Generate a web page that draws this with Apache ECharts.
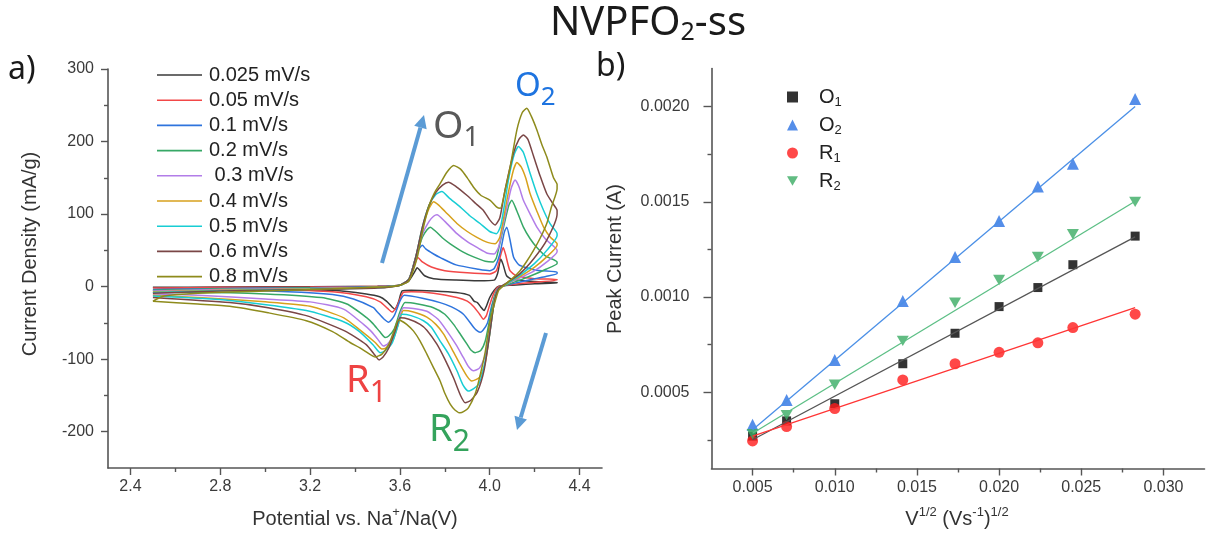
<!DOCTYPE html>
<html><head><meta charset="utf-8">
<script src="https://cdn.jsdelivr.net/npm/echarts/dist/echarts.min.js"></script>
<style>html,body{margin:0;padding:0;background:#fff}#c{width:1207px;height:535px}</style>
</head><body><div id="c"></div>
<script>
// ---------- panel a) data: cyclic voltammograms [potential V, current density mA/g] ----------
const scanRateNames = ['0.025 mV/s', '0.05 mV/s', '0.1 mV/s', '0.2 mV/s', ' 0.3 mV/s', '0.4 mV/s', '0.5 mV/s', '0.6 mV/s', '0.8 mV/s'];

const cv0025 = [[2.5,-1],[2.8,-0.5],[3.2,0],[3.5,0.5],[3.6,2],[3.64,8],[3.665,20],[3.677,26],[3.69,22],[3.71,15],[3.75,11],[3.85,9],[3.95,8],[4.02,9],[4.035,18],[4.049,38],[4.06,30],[4.075,15],[4.1,10],[4.2,7],[4.3,6],
  [4.3,5],[4.2,4],[4.1,2],[4.04,0.5],[4.02,-5],[4.0,-15],[3.985,-27],[3.975,-33],[3.96,-28],[3.945,-22],[3.93,-20],[3.91,-12],[3.85,-8],[3.75,-6],[3.65,-5],[3.61,-6],[3.595,-20],[3.578,-31],[3.565,-28],[3.54,-20],[3.51,-14],[3.45,-10],[3.3,-5],[3.0,-3],[2.7,-2],[2.5,-1]];
const cv005 = [[2.5,-2],[2.8,-1],[3.2,-0.5],[3.5,0.5],[3.6,2],[3.64,10],[3.665,30],[3.68,40],[3.70,34],[3.74,27],[3.8,22],[3.9,19],[4.0,17.5],[4.03,22],[4.05,45],[4.06,54],[4.07,45],[4.09,22],[4.12,15],[4.2,11],[4.3,10],
  [4.3,9],[4.2,6],[4.1,3],[4.04,0],[4.02,-8],[4.0,-25],[3.985,-40],[3.972,-45],[3.955,-38],[3.93,-28],[3.9,-20],[3.854,-15],[3.75,-9],[3.65,-7],[3.615,-8],[3.59,-25],[3.565,-35],[3.545,-30],[3.512,-21],[3.45,-14],[3.3,-7],[3.0,-4],[2.7,-3],[2.5,-2]];
const cv01 = [[2.5,-4],[2.8,-2.5],[3.2,-1.5],[3.5,0],[3.6,2],[3.64,10],[3.665,35],[3.685,52],[3.70,57],[3.715,52],[3.75,45],[3.78,40],[3.85,30],[3.95,24],[4.0,22],[4.02,25],[4.045,45],[4.065,75],[4.076,82],[4.09,65],[4.106,41],[4.13,30],[4.2,23],[4.3,20],
  [4.3,18],[4.25,14],[4.2,11],[4.13,6],[4.06,1],[4.035,-3],[4.01,-25],[3.99,-50],[3.97,-60],[3.957,-63],[3.94,-60],[3.928,-56],[3.883,-38],[3.83,-28],[3.779,-22],[3.7,-16],[3.62,-12],[3.6,-20],[3.575,-40],[3.55,-49],[3.53,-45],[3.5,-35],[3.482,-29],[3.393,-17],[3.3,-11],[3.1,-7],[2.8,-5],[2.5,-5]];
const cv02 = [[2.5,-5],[2.8,-3],[3.2,-2],[3.5,-0.5],[3.6,2],[3.64,10],[3.67,40],[3.70,68],[3.72,78],[3.735,82],[3.76,76],[3.79,67],[3.824,59],[3.88,48],[3.928,41],[3.98,35],[4.016,34],[4.03,40],[4.06,80],[4.085,112],[4.098,119],[4.12,105],[4.15,82],[4.18,66],[4.21,54],[4.25,42],[4.3,34],
  [4.3,32],[4.25,24],[4.2,17],[4.135,9],[4.07,2],[4.04,-2],[4.02,-15],[4.0,-45],[3.98,-75],[3.96,-88],[3.935,-91],[3.915,-87],[3.898,-79],[3.87,-66],[3.839,-52],[3.8,-38],[3.749,-29],[3.68,-24],[3.623,-22],[3.6,-35],[3.575,-58],[3.55,-68],[3.534,-70],[3.51,-62],[3.48,-51],[3.453,-43],[3.364,-24],[3.25,-15],[3.0,-10],[2.7,-8],[2.5,-8]];
const cv03 = [[2.5,-6],[2.8,-4],[3.2,-2.5],[3.5,-1],[3.6,2],[3.64,10],[3.67,40],[3.70,72],[3.73,90],[3.75,97],[3.765,99],[3.8,90],[3.854,73],[3.9,62],[3.943,54],[3.99,46],[4.02,45],[4.04,55],[4.07,100],[4.095,135],[4.113,147],[4.13,138],[4.15,119],[4.18,100],[4.21,82],[4.25,65],[4.3,50],
  [4.3,48],[4.25,33],[4.2,22],[4.135,12],[4.07,3],[4.04,-2],[4.02,-20],[4.0,-60],[3.98,-95],[3.955,-112],[3.928,-116],[3.905,-110],[3.883,-98],[3.85,-80],[3.809,-61],[3.77,-45],[3.72,-34],[3.66,-30],[3.616,-29],[3.595,-45],[3.57,-68],[3.545,-79],[3.527,-82],[3.5,-72],[3.47,-61],[3.438,-52],[3.349,-31],[3.2,-21],[3.0,-17],[2.7,-12],[2.5,-10]];
const cv04 = [[2.5,-7],[2.8,-5],[3.2,-3],[3.5,-1],[3.6,2],[3.64,10],[3.67,40],[3.70,80],[3.73,108],[3.75,117],[3.77,113],[3.80,104],[3.854,87],[3.9,76],[3.943,68],[3.99,61],[4.024,59],[4.045,68],[4.08,125],[4.105,160],[4.121,171],[4.14,165],[4.16,150],[4.18,128],[4.21,104],[4.24,82],[4.27,68],[4.3,59],
  [4.3,57],[4.25,40],[4.2,27],[4.135,14],[4.07,3],[4.04,-2],[4.02,-20],[4.0,-65],[3.98,-105],[3.955,-125],[3.92,-130],[3.9,-124],[3.868,-107],[3.83,-85],[3.794,-65],[3.76,-52],[3.72,-42],[3.66,-35],[3.616,-33],[3.595,-50],[3.57,-73],[3.54,-84],[3.52,-86],[3.49,-77],[3.423,-60],[3.35,-43],[3.2,-27],[3.0,-21],[2.7,-15],[2.5,-12]];
const cv05 = [[2.5,-8],[2.8,-5.5],[3.2,-3.5],[3.5,-1.5],[3.6,2],[3.64,10],[3.67,40],[3.70,82],[3.73,112],[3.76,127],[3.787,131],[3.82,122],[3.868,110],[3.91,98],[3.957,87],[4.0,76],[4.03,73],[4.05,85],[4.085,150],[4.11,183],[4.128,193],[4.15,185],[4.18,156],[4.21,128],[4.24,105],[4.27,86],[4.3,73],
  [4.3,70],[4.254,50],[4.2,32],[4.135,16],[4.07,3],[4.04,-2],[4.02,-22],[4.0,-65],[3.975,-110],[3.95,-135],[3.905,-144],[3.88,-135],[3.854,-116],[3.815,-92],[3.779,-75],[3.74,-56],[3.705,-47],[3.65,-40],[3.609,-38],[3.59,-55],[3.565,-78],[3.535,-88],[3.512,-91],[3.48,-80],[3.42,-62],[3.354,-49],[3.183,-33],[2.842,-19],[2.5,-13]];
const cv06 = [[2.5,-9],[2.8,-6],[3.2,-4],[3.5,-2],[3.6,2],[3.64,10],[3.67,40],[3.70,82],[3.73,112],[3.76,130],[3.79,140],[3.816,144],[3.85,138],[3.898,126],[3.94,114],[3.972,105],[4.0,92],[4.024,85],[4.045,95],[4.068,133],[4.106,184],[4.13,203],[4.15,209],[4.17,203],[4.195,180],[4.225,152],[4.254,128],[4.28,115],[4.3,105],
  [4.3,100],[4.254,64],[4.195,38],[4.135,18],[4.07,4],[4.04,-2],[4.02,-22],[4.0,-65],[3.975,-115],[3.945,-145],[3.915,-157],[3.891,-160],[3.87,-150],[3.839,-126],[3.8,-100],[3.764,-79],[3.72,-60],[3.69,-52],[3.64,-45],[3.601,-43],[3.58,-60],[3.55,-85],[3.525,-97],[3.507,-101],[3.49,-95],[3.45,-80],[3.354,-61],[3.183,-40],[3.013,-29],[2.842,-22],[2.5,-15]];
const cv08 = [[2.5,-20],[2.55,-13],[2.7,-9],[3.0,-6],[3.3,-3],[3.55,0],[3.6,2],[3.64,8],[3.677,40],[3.70,75],[3.728,110],[3.755,130],[3.779,142],[3.81,158],[3.839,167],[3.87,162],[3.9,150],[3.928,137],[3.96,126],[4.002,119],[4.03,110],[4.047,108],[4.07,135],[4.091,165],[4.121,216],[4.145,240],[4.165,246],[4.185,235],[4.21,216],[4.232,196],[4.254,179],[4.284,150],[4.3,141],
  [4.3,135],[4.275,110],[4.254,87],[4.225,67],[4.195,50],[4.165,35],[4.135,22],[4.1,11],[4.061,1],[4.04,-5],[4.02,-25],[4.0,-50],[3.98,-90],[3.955,-125],[3.935,-148],[3.905,-167],[3.885,-172],[3.868,-174],[3.845,-170],[3.824,-162],[3.8,-147],[3.779,-130],[3.75,-112],[3.72,-93],[3.69,-75],[3.66,-61],[3.63,-52],[3.605,-47],[3.593,-46],[3.575,-60],[3.55,-80],[3.52,-93],[3.49,-97],[3.46,-92],[3.42,-84],[3.378,-77],[3.3,-62],[3.183,-47],[3.013,-36],[2.842,-27],[2.7,-24],[2.5,-20]];
const cvCurves = [cv0025, cv005, cv01, cv02, cv03, cv04, cv05, cv06, cv08];

const potentialTicks = [2.4, 2.8, 3.2, 3.6, 4.0, 4.4];
const potentialMinor = [2.6, 3.0, 3.4, 3.8, 4.2];
const densityTicks = [-200, -100, 0, 100, 200, 300];
const densityMinor = [-150, -50, 50, 150, 250];

// ---------- panel b) data: peak current vs sqrt(scan rate) ----------
const sqrtRate = [0.005, 0.00707, 0.01, 0.01414, 0.01732, 0.02, 0.02236, 0.02449, 0.02828];
const peakO1 = [0.00027, 0.00035, 0.00044, 0.00065, 0.00081, 0.00095, 0.00105, 0.00117, 0.00132];
const peakO2 = [0.00033, 0.00046, 0.00067, 0.00098, 0.00121, 0.00140, 0.00158, 0.00170, 0.00204];
const peakR1 = [0.000245, 0.00032, 0.000415, 0.000565, 0.00065, 0.00071, 0.00076, 0.00084, 0.00091];
const peakR2 = [0.00028, 0.00038, 0.00054, 0.00077, 0.00097, 0.00109, 0.00121, 0.00133, 0.00150];
const fitO1 = [[0.005, 0.000251], [0.02828, 0.001316]];
const fitO2 = [[0.005, 0.000304], [0.02828, 0.00200]];
const fitR1 = [[0.005, 0.000270], [0.02828, 0.000944]];
const fitR2 = [[0.005, 0.000285], [0.02828, 0.001503]];
const peakNames = ['O1', 'O2', 'R1', 'R2'];

const sqrtRateTicks = [0.005, 0.010, 0.015, 0.020, 0.025, 0.030];
const sqrtRateMinor = [0.0075, 0.0125, 0.0175, 0.0225, 0.0275];
const peakTicks = [0.0005, 0.0010, 0.0015, 0.0020];
const peakMinor = [0.00025, 0.00075, 0.00125, 0.00175];

// ---------- styling ----------
const FONT = 'Liberation Sans, Arial, sans-serif';
const FONT2 = 'Noto Sans, Open Sans, sans-serif';
const AX = '#555';
const cvColors = ['#3a3a3a', '#f24848', '#2e74dd', '#37a866', '#b27de8', '#d7a11c', '#18cdd4', '#7a4646', '#8e8b1c'];
const DOWN_TRI = 'path://M0,0 L10,0 L5,8.66 Z';

function mainAxis(grid, min, max, ticks, fmt, pos, margin, tickLen) {
  return {
    gridIndex: grid, type: 'value', min: min, max: max, position: pos,
    axisLine: { show: true, onZero: false, lineStyle: { color: AX, width: 1.6 } },
    axisTick: { show: true, customValues: ticks, length: tickLen, lineStyle: { color: AX, width: 1.4 } },
    axisLabel: { show: true, customValues: ticks, formatter: fmt, margin: margin, fontSize: 16, fontFamily: FONT, color: '#3a3a3a' },
    splitLine: { show: false }
  };
}
function minorAxis(grid, min, max, ticks, pos) {
  return {
    gridIndex: grid, type: 'value', min: min, max: max, position: pos,
    axisLine: { show: false, onZero: false },
    axisTick: { show: true, customValues: ticks, length: 4, lineStyle: { color: AX, width: 1.4 } },
    axisLabel: { show: false },
    splitLine: { show: false }
  };
}

const series = [];
cvCurves.forEach((d, i) => {
  series.push({
    name: scanRateNames[i], type: 'line', xAxisIndex: 0, yAxisIndex: 0, data: d,
    symbol: 'none', showSymbol: false, smooth: 0.2, clip: true,
    lineStyle: { color: cvColors[i], width: 1.5 }, itemStyle: { color: cvColors[i] }
  });
});
const fitDefs = [[fitO2, '#4a8fe6'], [fitR2, '#5cbf85'], [fitO1, '#555555'], [fitR1, '#ff3535']];
fitDefs.forEach(([d, c]) => {
  series.push({ type: 'line', xAxisIndex: 2, yAxisIndex: 2, data: d, symbol: 'none', lineStyle: { color: c, width: 1.3 }, silent: true });
});
const peakDefs = [
  [peakO1, 'rect', 9, '#000000'],
  [peakO2, 'triangle', 12, '#2a72e3'],
  [peakR1, 'circle', 11, '#ff1a1a'],
  [peakR2, DOWN_TRI, [12, 10.4], '#3aab63']
];
peakDefs.forEach(([vals, sym, size, c], i) => {
  series.push({
    name: peakNames[i], type: 'scatter', xAxisIndex: 2, yAxisIndex: 2,
    data: vals.map((v, k) => [sqrtRate[k], v]),
    symbol: sym, symbolSize: size, itemStyle: { color: c }
  });
});

const subRich = (main, sub, L) => ({
  m: { fontSize: main, lineHeight: L, fontFamily: FONT2 },
  s: { fontSize: sub, lineHeight: sub, verticalAlign: 'bottom', fontFamily: FONT2 }
});
const supRich = {
  m: { fontSize: 20, lineHeight: 26, fontFamily: FONT, fill: '#333' },
  p: { fontSize: 13, lineHeight: 13, verticalAlign: 'top', fontFamily: FONT, fill: '#333' }
};

function arrow(x1, y1, x2, y2) {
  const dx = x2 - x1, dy = y2 - y1, L = Math.hypot(dx, dy);
  const ux = dx / L, uy = dy / L, nx = -uy, ny = ux, h = 13, w = 6.5;
  const bx = x2 - ux * h, by = y2 - uy * h;
  return [
    { type: 'line', shape: { x1: x1, y1: y1, x2: bx, y2: by }, style: { stroke: '#5b9bd5', lineWidth: 4 } },
    { type: 'polygon', shape: { points: [[x2, y2], [bx + nx * w, by + ny * w], [bx - nx * w, by - ny * w]] }, style: { fill: '#5b9bd5' } }
  ];
}

const graphic = [
  { type: 'text', x: 648, y: 24, style: { text: '{m|NVPFO}{s|2}{m|-ss}', rich: subRich(40, 25, 42), fill: '#1a1a1a', align: 'center', verticalAlign: 'middle' } },
  { type: 'text', x: 8, y: 70, style: { text: 'a)', fontSize: 32, fontFamily: FONT2, fill: '#1a1a1a', align: 'left', verticalAlign: 'middle' } },
  { type: 'text', x: 596, y: 67, style: { text: 'b)', fontSize: 32, fontFamily: FONT2, fill: '#1a1a1a', align: 'left', verticalAlign: 'middle' } },
  { type: 'text', x: 433, y: 127, style: { text: '{m|O}{s|1}', rich: subRich(39, 28, 51), fill: '#595959', align: 'left', verticalAlign: 'middle' } },
  { type: 'text', x: 515, y: 87, style: { text: '{m|O}{s|2}', rich: subRich(33, 26, 48), fill: '#1e74e0', align: 'left', verticalAlign: 'middle' } },
  { type: 'text', x: 346, y: 381, style: { text: '{m|R}{s|1}', rich: subRich(38, 30, 54), fill: '#ee4343', align: 'left', verticalAlign: 'middle' } },
  { type: 'text', x: 429, y: 430, style: { text: '{m|R}{s|2}', rich: subRich(38, 30, 54), fill: '#34a35c', align: 'left', verticalAlign: 'middle' } },
  { type: 'text', x: 30, y: 254, rotation: Math.PI / 2, style: { text: 'Current Density (mA/g)', fontSize: 20, fontFamily: FONT, fill: '#333', align: 'center', verticalAlign: 'middle' } },
  { type: 'text', x: 615, y: 259, rotation: Math.PI / 2, style: { text: 'Peak Current (A)', fontSize: 20, fontFamily: FONT, fill: '#333', align: 'center', verticalAlign: 'middle' } },
  { type: 'text', x: 355, y: 519, style: { text: '{m|Potential vs. Na}{p|+}{m|/Na(V)}', rich: supRich, align: 'center', verticalAlign: 'middle' } },
  { type: 'text', x: 957, y: 519, style: { text: '{m|V}{p|1/2}{m| (Vs}{p|-1}{m|)}{p|1/2}', rich: supRich, align: 'center', verticalAlign: 'middle' } }
].concat(arrow(382, 263, 424, 115), arrow(546, 333, 517, 430));

const option = {
  animation: false,
  backgroundColor: '#ffffff',
  grid: [
    { left: 108, top: 69, width: 494, height: 399 },
    { left: 711.5, top: 68.5, width: 493, height: 400 }
  ],
  xAxis: [
    mainAxis(0, 2.3, 4.5, potentialTicks, v => v.toFixed(1), 'bottom', 11, 7),
    minorAxis(0, 2.3, 4.5, potentialMinor, 'bottom'),
    mainAxis(1, 0.0025, 0.0325, sqrtRateTicks, v => v.toFixed(3), 'bottom', 11, 7),
    minorAxis(1, 0.0025, 0.0325, sqrtRateMinor, 'bottom')
  ],
  yAxis: [
    mainAxis(0, -250, 300, densityTicks, v => String(v), 'left', 14, 7),
    minorAxis(0, -250, 300, densityMinor, 'left'),
    mainAxis(1, 0.0001, 0.0022, peakTicks, v => v.toFixed(4), 'left', 22, 8),
    minorAxis(1, 0.0001, 0.0022, peakMinor, 'left')
  ],
  legend: [
    {
      data: scanRateNames, orient: 'vertical', left: 152, top: 60, itemWidth: 45, itemHeight: 14, itemGap: 5.2,
      selectedMode: false, icon: 'path://M0,0 L45,0 L45,1.6 L0,1.6 Z',
      textStyle: { fontSize: 20, lineHeight: 20, fontFamily: FONT, color: '#222', padding: [0, 0, 0, 2] }
    },
    {
      data: peakNames, orient: 'vertical', left: 782, top: 82, itemWidth: 11, itemHeight: 11, itemGap: 6,
      selectedMode: false,
      formatter: n => '{sp|}{m|' + n[0] + '}{s|' + n[1] + '}',
      textStyle: {
        color: '#222',
        rich: {
          sp: { width: 16 },
          m: { fontSize: 20, lineHeight: 24, fontFamily: FONT, color: '#222' },
          s: { fontSize: 13, lineHeight: 13, verticalAlign: 'bottom', fontFamily: FONT, color: '#222' }
        }
      }
    }
  ],
  graphic: graphic,
  series: series
};

const chart = echarts.init(document.getElementById('c'), null, { renderer: 'canvas' });
chart.setOption(option);
</script></body></html>
